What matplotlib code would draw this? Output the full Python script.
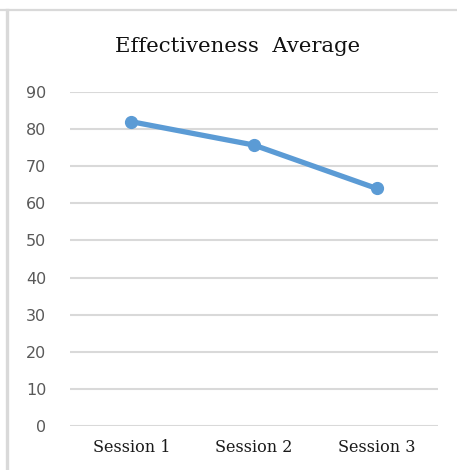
import matplotlib.pyplot as plt
from matplotlib.lines import Line2D

sessions = ["Session 1", "Session 2", "Session 3"]
effectiveness = [82, 75.7, 64]
yticks = [0, 10, 20, 30, 40, 50, 60, 70, 80, 90]

W, H = 457, 470
fig = plt.figure(figsize=(W / 100, H / 100), dpi=100)
ax = fig.add_axes([70 / W, 1 - 426 / H, 368 / W, 334 / H])

x = range(len(sessions))
ax.plot(x, effectiveness, color="#5B9BD5", lw=3.8, marker="o", ms=8.5,
        solid_capstyle="round", zorder=3)

ax.set_xlim(-0.5, 2.5)
ax.set_ylim(0, 90)
ax.set_yticks(yticks)
ax.set_xticks(list(x))
ax.set_xticklabels(sessions, family="DejaVu Serif", fontsize=11.5, color="#1a1a1a")
for lab in ax.get_yticklabels():
    lab.set_family("DejaVu Sans")
    lab.set_fontsize(11.5)
    lab.set_color("#595959")
ax.tick_params(length=0)
ax.tick_params(axis="y", pad=17)
ax.tick_params(axis="x", pad=9)
ax.grid(axis="y", color="#D9D9D9", lw=1.5)
ax.set_axisbelow(True)
for s in ax.spines.values():
    s.set_visible(False)

fig.text(238 / W, 1 - 46 / H, "Effectiveness  Average", ha="center", va="center",
         family="DejaVu Serif", fontsize=15.3, color="#111111")

# chart frame edges
fig.add_artist(Line2D([0, 456 / W], [1 - 10 / H, 1 - 10 / H],
                      transform=fig.transFigure, color="#D9D9D9", lw=1.6))
fig.add_artist(Line2D([7.5 / W, 7.5 / W], [0, 1 - 10 / H],
                      transform=fig.transFigure, color="#D9D9D9", lw=2.4))

fig.savefig("out.png", dpi=100)
